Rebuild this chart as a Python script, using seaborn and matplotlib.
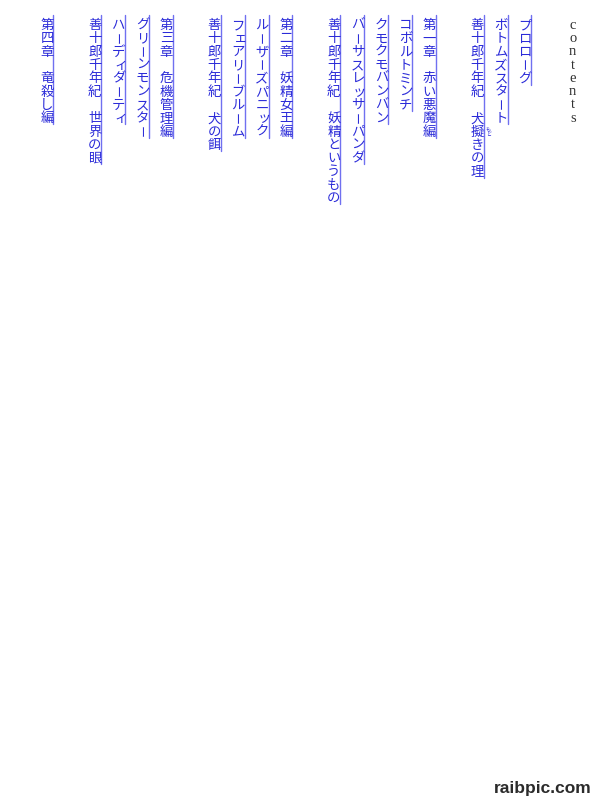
import matplotlib
matplotlib.use("Agg")
import matplotlib.pyplot as plt
import pandas as pd
import seaborn as sns

# Table of contents, read right to left (vertical writing)
titles = [
    "プロローグ",
    "ボトムズスタート",
    "善十郎千年紀　犬擬きの理",
    "第一章　赤い悪魔編",
    "コボルトミンチ",
    "クモクモバンバン",
    "バーサスレッサーパンダ",
    "善十郎千年紀　妖精というもの",
    "第二章　妖精女王編",
    "ルーザーズパニック",
    "フェアリーブルーム",
    "善十郎千年紀　犬の餌",
    "第三章　危機管理編",
    "グリーンモンスター",
    "ハーディダーティ",
    "善十郎千年紀　世界の眼",
    "第四章　竜殺し編",
]
# column slot of each title (empty slot = gap between chapters)
slots = [0, 1, 2, 4, 5, 6, 7, 8, 10, 11, 12, 13, 15, 16, 17, 18, 20]
# ruby: (title index, char index, reading)
ruby = [(2, 8, "もど")]
heading = "contents"
heading_slot = -2

TEXT_COLOR = "#2b2bd8"
RULE_COLOR = "#7070f0"
small_kana = set("ァィゥェォッャュョヮぁぃぅぇぉっゃゅょ")
rotate_chars = set("ー")

sns.set_theme(style="white")
plt.rcParams["font.family"] = ["Noto Sans CJK JP", "DejaVu Sans"]

fig = plt.figure(figsize=(6, 8), dpi=100)
ax = fig.add_axes([0, 0, 1, 1])

# vertical rules beside each title
rows = []
for k, (t, s) in enumerate(zip(titles, slots)):
    rows.append({"entry": k, "x": s - 0.27, "y": -0.65})
    rows.append({"entry": k, "x": s - 0.27, "y": len(t) - 0.42})
rules = pd.DataFrame(rows)
sns.lineplot(data=rules, x="x", y="y", units="entry", estimator=None,
             sort=False, color=RULE_COLOR, lw=1.0, ax=ax)
ax.set_xlim(21.966, -3.138)
ax.set_ylim(58.37, -1.778)
ax.axis("off")

# vertical characters
for t, s in zip(titles, slots):
    for i, ch in enumerate(t):
        if ch == "　":
            continue
        dx, rot, size = 0.0, 0, 9.6
        if ch in small_kana:
            dx = -0.08
        if ch in rotate_chars:
            rot, size = 90, 8.6
        ax.text(s + dx, i, ch, color=TEXT_COLOR, fontsize=size,
                ha="center", va="center_baseline", rotation=rot,
                rotation_mode="anchor")

for k, ci, reading in ruby:
    for j, ch in enumerate(reading):
        ax.text(slots[k] - 0.47, ci - 0.1 + j * 0.36, ch, color=TEXT_COLOR,
                fontsize=3.6, ha="center", va="center_baseline")

for i, ch in enumerate(heading):
    ax.text(heading_slot, i, ch, color="#333333", fontsize=10.5,
            family="Liberation Serif", ha="center", va="center_baseline")

fig.text(0.905, 0.014, "raibpic.com", color="#2b2b2b", fontsize=12.5,
         fontweight="bold", family="Liberation Sans", ha="center", va="center")

fig.savefig("out.png", dpi=100, facecolor="white")
